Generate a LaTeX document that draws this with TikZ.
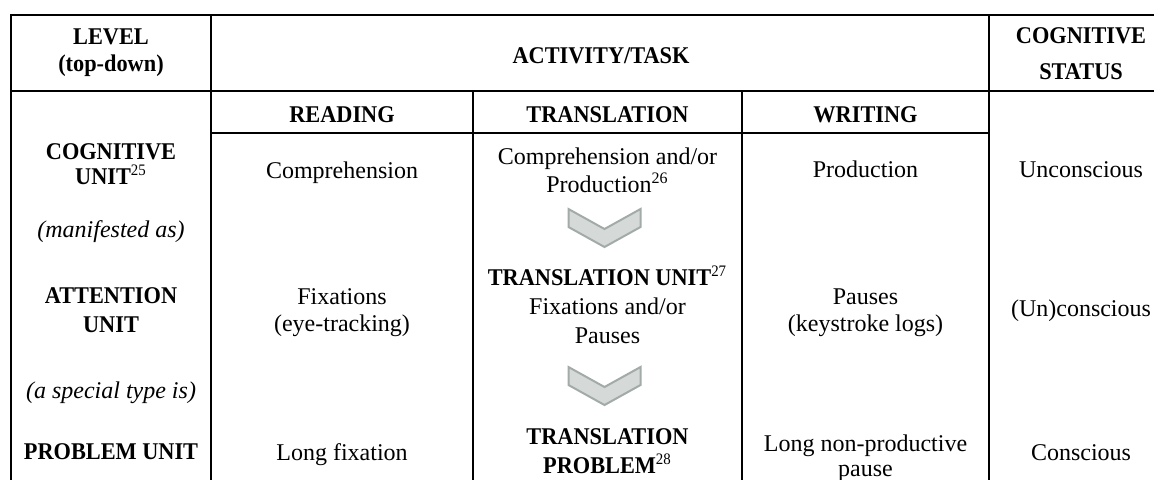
\documentclass[tikz,border=0pt]{standalone}
\usepackage{fontspec}
\setmainfont{Liberation Serif}
\newfontfamily\headfont{Liberation Serif}[FakeStretch=0.93]
\definecolor{chevfill}{HTML}{D5DAD8}
\definecolor{chevline}{HTML}{A2ABA7}
\newcommand\fnmark[1]{\textsuperscript{\mdseries #1}}
\begin{document}
\begin{tikzpicture}[x=0.5pt,y=-0.5pt,
  rule/.style={line width=1pt, black, line cap=rect},
  txt/.style={anchor=base, inner sep=0pt, font=\fontsize{12}{14}\selectfont},
  hd/.style={anchor=base, inner sep=0pt, font=\fontsize{12}{14}\selectfont\headfont\bfseries},
  note/.style={anchor=base, inner sep=0pt, font=\fontsize{12}{14}\selectfont\itshape},
  chev/.style={fill=chevfill, draw=chevline, line width=1pt, line join=miter}]
\useasboundingbox (0,0) rectangle (1154,479);

% table rules
\draw[rule] (11,15) -- (1154,15);
\draw[rule] (11,91) -- (1154,91);
\draw[rule] (211,133) -- (989,133);
\draw[rule] (11,15) -- (11,479);
\draw[rule] (211,15) -- (211,479);
\draw[rule] (989,15) -- (989,479);
\draw[rule] (473,91) -- (473,479);
\draw[rule] (742,91) -- (742,479);

% header row
\node[hd] (lvlA) at (111,44) {LEVEL};
\node[hd] (lvlB) at (111,71) {(top-down)};
\node[hd] (act)  at (601,63) {ACTIVITY/TASK};
\node[hd] (csA)  at (1081,43) {COGNITIVE};
\node[hd] (csB)  at (1081,79) {STATUS};

% task headings
\node[hd] (rd) at (342,122) {READING};
\node[hd] (tr) at (607.5,122) {TRANSLATION};
\node[hd] (wr) at (865.5,122) {WRITING};

% level column
\node[hd]   (cuA)  at (111,159) {COGNITIVE};
\node[hd]   (cuB)  at (111,184) {UNIT\fnmark{25}};
\node[note] (man)  at (111,237) {(manifested as)};
\node[hd]   (auA)  at (111,303) {ATTENTION};
\node[hd]   (auB)  at (111,332) {UNIT};
\node[note] (spec) at (111,398) {(a special type is)};
\node[hd]   (pu)   at (111,459) {PROBLEM UNIT};

% reading
\node[txt] (comp) at (342,178) {Comprehension};
\node[txt] (fixA) at (342,304) {Fixations};
\node[txt] (fixB) at (342,331) {(eye-tracking)};
\node[txt] (lfix) at (342,460) {Long fixation};

% translation
\node[txt] (cpA) at (607.5,164) {Comprehension and/or};
\node[txt] (cpB) at (607.5,192) {Production\fnmark{26}};
\node[hd]  (tu)  at (607.5,285) {TRANSLATION UNIT\fnmark{27}};
\node[txt] (fpA) at (607.5,314) {Fixations and/or};
\node[txt] (fpB) at (607.5,343) {Pauses};
\node[hd]  (tpA) at (607.5,444) {TRANSLATION};
\node[hd]  (tpB) at (607.5,473) {PROBLEM\fnmark{28}};

% chevrons between translation levels
\draw[chev] (568.5,209) -- (604.5,229) -- (640.5,209) -- (640.5,227) -- (604.5,247) -- (568.5,227) -- cycle;
\draw[chev] (568.5,367) -- (604.5,387) -- (640.5,367) -- (640.5,385) -- (604.5,405) -- (568.5,385) -- cycle;

% writing
\node[txt] (prod) at (865.5,177) {Production};
\node[txt] (paA)  at (865.5,304) {Pauses};
\node[txt] (paB)  at (865.5,331) {(keystroke logs)};
\node[txt] (lnA)  at (865.5,451) {Long non-productive};
\node[txt] (lnB)  at (865.5,476) {pause};

% cognitive status
\node[txt] (unc) at (1081,177) {Unconscious};
\node[txt] (unx) at (1081,316) {(Un)conscious};
\node[txt] (con) at (1081,460) {Conscious};
\end{tikzpicture}
\end{document}
